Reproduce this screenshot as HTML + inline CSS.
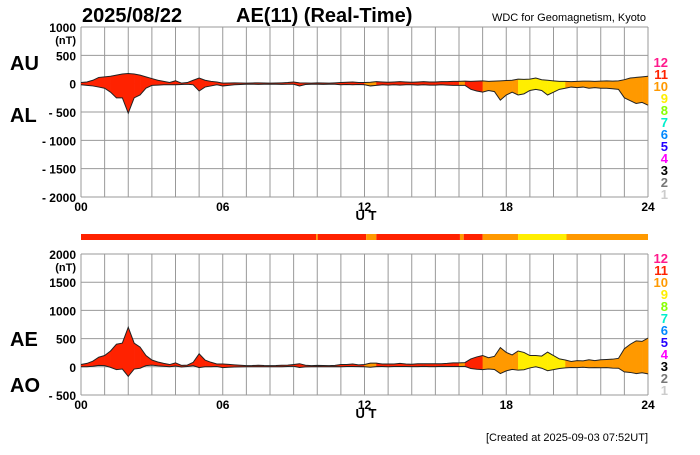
<!DOCTYPE html>
<html><head><meta charset="utf-8"><style>
body{margin:0;background:#fff;width:700px;height:450px;overflow:hidden}
svg{font-family:"Liberation Sans",Arial,sans-serif;font-weight:bold}
</style></head><body>
<svg id="c" width="700" height="450" xmlns="http://www.w3.org/2000/svg">
<text x="82" y="22" font-size="20">2025/08/22</text>
<text x="236" y="22" font-size="20">AE(11) (Real-Time)</text>
<text x="646" y="21" font-size="11" text-anchor="end" font-weight="normal">WDC for Geomagnetism, Kyoto</text>
<text x="10" y="70" font-size="20">AU</text>
<text x="10" y="122" font-size="20">AL</text>
<text x="10" y="346" font-size="20">AE</text>
<text x="10" y="392" font-size="20">AO</text>
<text x="366" y="220" font-size="13" text-anchor="middle">U T</text>
<text x="366" y="418" font-size="13" text-anchor="middle">U T</text>
<text x="648" y="441" font-size="11" text-anchor="end" font-weight="normal">[Created at 2025-09-03 07:52UT]</text>
</svg>
<script>
const times=[];for(let i=0;i<=96;i++)times.push(i/4);
const au=[20,30,60,110,120,130,150,170,180,170,150,120,90,60,40,20,50,10,20,60,100,60,40,30,10,12,15,12,10,12,15,12,10,12,15,20,30,15,12,10,15,12,10,15,20,25,30,20,20,25,35,30,25,30,35,30,25,30,35,30,30,35,35,40,40,45,40,45,50,40,45,50,55,60,80,75,80,100,70,60,50,40,40,35,40,45,45,40,45,50,45,50,70,100,110,120,130];
const al=[-20,-30,-40,-60,-80,-150,-250,-250,-520,-250,-200,-80,-30,-25,-20,-20,-20,-15,-10,-20,-130,-60,-40,-20,-40,-30,-20,-15,-10,-10,-12,-10,-10,-10,-12,-10,-10,-40,-15,-10,-10,-12,-10,-10,-20,-15,-20,-15,-20,-40,-30,-20,-25,-20,-25,-20,-20,-25,-20,-25,-25,-20,-25,-30,-30,-30,-100,-130,-150,-120,-140,-290,-200,-150,-200,-180,-120,-100,-120,-200,-150,-100,-80,-60,-70,-60,-80,-70,-80,-80,-90,-100,-250,-300,-350,-330,-380];
const segStart=[0,9.95,10.02,12.07,12.5,16.04,16.2,17.0,18.5,20.55];
const segLevel=[11,10,11,10,11,10,11,10,9,10];
const levels=[12,11,10,9,8,7,6,5,4,3,2,1];
const levelColors=["#ff1a8c","#ff2200","#ff9900","#ffee00","#88ff00","#00eecc","#0088ff","#2200ff","#ff00ff","#000000","#777777","#cccccc"];
const topTicks=[1000,500,0,-500,-1000,-1500,-2000];
const botTicks=[2000,1500,1000,500,0,-500];
const xTicks=[0,6,12,18,24];
const NS="http://www.w3.org/2000/svg",svg=document.getElementById('c');
const X0=81,X1=648;
const xs=t=>X0+(X1-X0)*t/24;
const yTop=v=>27+(1000-v)*170/3000;
const yBot=v=>254+(2000-v)*141/2500;
function mk(tag,at,parent){const e=document.createElementNS(NS,tag);for(const k in at)e.setAttribute(k,at[k]);(parent||svg).appendChild(e);return e;}
function colorOf(lv){return levelColors[levels.indexOf(lv)];}
function levelAt(t){let l=segLevel[0];for(let i=0;i<segStart.length;i++)if(t>=segStart[i])l=segLevel[i];return l;}
const ae=au.map((u,i)=>u-al[i]);
const ao=au.map((u,i)=>(u+al[i])/2);
function panel(name,ys,ticks,hi,lo,upper,lower,legY){
  const g=mk('g',{});
  
  
  for(let h=0;h<=24;h++){const l=mk('line',{x1:xs(h),x2:xs(h),y1:ys(hi),y2:ys(lo),stroke:'#999','stroke-width':1},g);
    }
  ticks.forEach(v=>{const l=mk('line',{x1:X0,x2:X1,y1:ys(v),y2:ys(v),stroke:'#999','stroke-width':1},g);
    
    const t=mk('text',{x:76,y:ys(v)+5,'font-size':12,'text-anchor':'end'},g);
    t.textContent=(v<0?'- ':'')+Math.abs(v);
    });
  const u=mk('text',{x:76,y:ys(hi)+17,'font-size':11,'text-anchor':'end'},g);u.textContent='(nT)';
  
  for(let i=0;i<times.length-1;i++){
    const tm=(times[i]+times[i+1])/2;
    const col=colorOf(levelAt(tm));
    const p=mk('polygon',{points:`${xs(times[i])},${ys(upper[i])} ${xs(times[i+1])+0.3},${ys(upper[i+1])} ${xs(times[i+1])+0.3},${ys(lower[i+1])} ${xs(times[i])},${ys(lower[i])}`,fill:col},g);
    }
  [upper,lower].forEach((arr,k)=>{const pl=mk('polyline',{points:arr.map((v,i)=>xs(times[i])+','+ys(v)).join(' '),fill:'none',stroke:'#222','stroke-width':1},g);
    });
  xTicks.forEach(h=>{const t=mk('text',{x:xs(h),y:ys(lo)+14,'font-size':12,'text-anchor':'middle'},g);
    t.textContent=String(h).padStart(2,'0');
    });
  levels.forEach((lv,i)=>{const t=mk('text',{x:668,y:legY+i*12,'font-size':13,'text-anchor':'end',fill:levelColors[i]},g);
    t.textContent=lv;});
}
panel('au-al',yTop,topTicks,1000,-2000,au,al,67);
panel('ae-ao',yBot,botTicks,2000,-500,ae,ao,263);
for(let i=0;i<segStart.length;i++){
  const a=segStart[i],b=i+1<segStart.length?segStart[i+1]:24;
  const r=mk('rect',{x:xs(a),y:234,width:xs(b)-xs(a),height:6,fill:colorOf(segLevel[i])});
  }
</script>
</body></html>
